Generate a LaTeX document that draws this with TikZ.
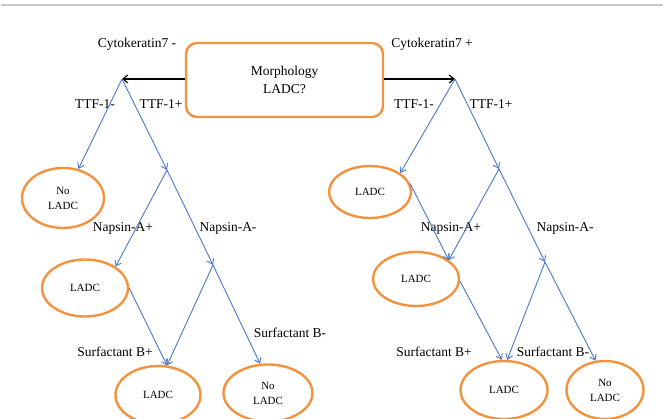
\documentclass[tikz,border=0pt]{standalone}
\usepackage{fontspec}
\setmainfont{Liberation Serif}
\usetikzlibrary{shapes.geometric,arrows.meta}
\definecolor{boxorange}{RGB}{244,146,62}
\definecolor{linkblue}{RGB}{72,120,200}
\definecolor{framegray}{RGB}{200,200,200}
\tikzset{
  lbl/.style={font=\fontsize{13.5}{16}\selectfont, inner sep=0pt},
  res/.style={ellipse, draw=boxorange, line width=2.4pt, inner sep=0pt, align=center,
              font=\fontsize{11}{15}\selectfont},
  mainbox/.style={rectangle, rounded corners=11pt, draw=boxorange, line width=2.4pt,
              minimum width=197pt, minimum height=74pt, align=center,
              font=\fontsize{13.5}{18}\selectfont},
  link/.style={draw=linkblue, line width=0.9pt, -{Straight Barb[length=5pt,width=7pt]}},
  blink/.style={draw=black, line width=1.1pt, -{Straight Barb[length=5pt,width=8pt]}},
}
\begin{document}
\begin{tikzpicture}[x=1pt,y=-1pt]
\useasboundingbox (0,0) rectangle (663,419);
\clip (0,0) rectangle (663,419);
\draw[framegray, line width=2pt] (1,5.5) -- (663,5.5);

% main box
\node[mainbox] (main) at (284.5,80) {Morphology\\LADC?};

% junctions
\coordinate (apexL) at (122,79);
\coordinate (apexR) at (455,79);
\coordinate (jL1) at (167,170);
\coordinate (jL2) at (213,265);
\coordinate (jR1) at (499,169);
\coordinate (jR2) at (545,262);

% result ellipses
\node[res, minimum width=82pt, minimum height=60pt] (noL) at (63,198) {No\\LADC};
\node[res, minimum width=86pt, minimum height=57pt] (ladcL1) at (85,288) {LADC};
\node[res, minimum width=85pt, minimum height=58pt] (ladcL2) at (158,395) {LADC};
\node[res, minimum width=89pt, minimum height=57pt] (noL2) at (268,393) {No\\LADC};
\node[res, minimum width=82pt, minimum height=52pt] (ladcR1) at (370,192) {LADC};
\node[res, minimum width=86pt, minimum height=54pt] (ladcR2) at (416,279) {LADC};
\node[res, minimum width=87pt, minimum height=58pt] (ladcR3) at (504,390) {LADC};
\node[res, minimum width=77pt, minimum height=58pt] (noR2) at (605,390) {No\\LADC};

% labels
\node[lbl] (ck7m) at (137,44) {Cytokeratin7 -};
\node[lbl] (ck7p) at (432,44) {Cytokeratin7 +};
\node[lbl] (ttfmL) at (95,104) {TTF-1-};
\node[lbl] (ttfpL) at (161,104) {TTF-1+};
\node[lbl] (ttfmR) at (414,104) {TTF-1-};
\node[lbl] (ttfpR) at (491,104) {TTF-1+};
\node[lbl] (napPL) at (123,228) {Napsin-A+};
\node[lbl] (napML) at (228,228) {Napsin-A-};
\node[lbl] (napPR) at (451,228) {Napsin-A+};
\node[lbl] (napMR) at (565,228) {Napsin-A-};
\node[lbl] (surPL) at (115,352) {Surfactant B+};
\node[lbl] (surML) at (290,333) {Surfactant B-};
\node[lbl] (surPR) at (434,352) {Surfactant B+};
\node[lbl] (surMR) at (553,352) {Surfactant B-};

% black arrows
\draw[blink] (main.west |- apexL) -- (apexL);
\draw[blink] (main.east |- apexR) -- (apexR);

% left tree
\draw[link] (apexL) -- (noL.62);
\draw[link] (apexL) -- (jL1);
\draw[link] (jL1) -- (ladcL1.35);
\draw[link] (jL1) -- (jL2);
\draw[link] (ladcL1.0) -- (ladcL2.73);
\draw[link] (jL2) -- (ladcL2.73);
\draw[link] (jL2) -- (noL2.105);

% right tree
\draw[link] (apexR) -- (ladcR1.32);
\draw[link] (apexR) -- (jR1);
\draw[link] (ladcR1.12) -- (ladcR2.30);
\draw[link] (jR1) -- (ladcR2.30);
\draw[link] (jR1) -- (jR2);
\draw[link] (ladcR2.-3) -- (ladcR3.94);
\draw[link] (jR2) -- (ladcR3.84);
\draw[link] (jR2) -- (noR2.108);
\end{tikzpicture}
\end{document}
